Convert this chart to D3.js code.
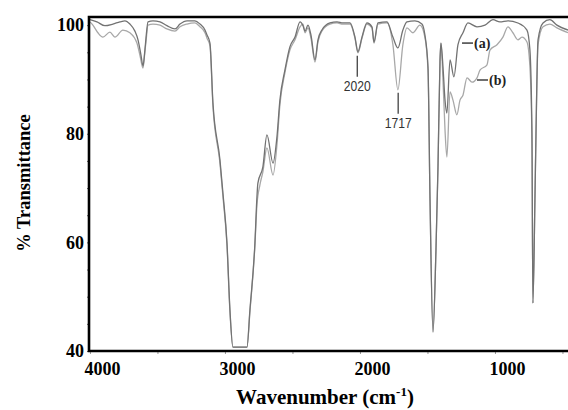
<!DOCTYPE html>
<html lang="en">
<head>
    <meta charset="UTF-8">
    <title>IR spectra</title>
    <style>
        body{
            margin:0;
            background:#fff;
        }
        svg{display:block;}
    </style>
    <script src="https://cdn.jsdelivr.net/npm/d3@7/dist/d3.min.js"></script>
</head>
<body>
<div id='container'>
</div>
</body>
<script>
    // spectrum (a): wavenumber (cm-1) and % transmittance
    var wnA = [4000,3948,3889,3830,3778,3741,3704,3667,3644,3622,3607,3593,3585,3570,3533,3481,3430,3370,3333,3281,
        3222,3185,3148,3133,3111,3089,3037,3015,2985,2963,2941,2837,2815,2778,2763,2756,2719,2689,2644,2615,
        2593,2556,2519,2481,2444,2422,2407,2385,2363,2333,2311,2282,2222,2170,2126,2074,2037,2015,1985,1948,
        1911,1896,1867,1800,1756,1719,1682,1652,1593,1541,1519,1496,1481,1459,1437,1422,1407,1400,1385,1370,
        1356,1333,1304,1274,1237,1200,1133,1074,1015,963,904,830,763,741,726,719,704,696,681,644,
        593,541,459];
    var tA = [101.0,100.6,99.9,100.2,100.6,100.8,100.2,98.9,97.3,94.5,92.5,95.4,97.6,100.6,100.8,100.6,99.9,99.3,100.2,100.8,
        100.8,100.2,99.1,98.2,96.7,85.7,75.2,69.1,59.9,47.6,40.7,40.7,47.6,59.9,68.4,70.9,73.9,79.8,74.6,79.4,
        86.2,91.7,96.0,97.8,100.6,99.9,98.9,100.0,98.2,93.6,97.3,99.1,100.4,100.6,100.4,100.4,97.8,95.1,97.8,100.4,
        99.7,96.9,100.4,100.6,97.8,95.8,99.1,100.6,100.8,100.2,98.2,92.3,67.8,43.5,58.6,73.9,93.6,96.7,92.3,86.2,
        83.8,93.6,90.5,96.4,98.6,100.4,99.7,100.0,101.0,100.6,100.8,100.4,99.1,95.4,80.2,48.8,67.8,80.2,97.3,100.4,
        101.0,100.0,99.1];

    // spectrum (b)
    var wnB = [4000,3978,3941,3904,3852,3815,3756,3704,3652,3630,3607,3593,3585,3570,3533,3481,3430,3370,3333,3281,
        3222,3185,3148,3133,3111,3089,3037,3015,2985,2963,2941,2837,2815,2778,2763,2741,2719,2689,2644,2615,
        2593,2556,2519,2481,2444,2422,2407,2385,2363,2333,2311,2282,2222,2170,2126,2074,2037,2015,1985,1948,
        1911,1896,1867,1800,1756,1719,1682,1652,1607,1556,1519,1496,1481,1459,1437,1422,1407,1400,1385,1370,
        1356,1333,1311,1282,1259,1237,1207,1170,1133,1111,1059,1037,985,941,904,867,830,800,763,741,
        726,719,704,696,681,644,593,541,459];
    var tB = [100.6,100.0,98.6,97.8,98.7,97.8,99.1,98.6,96.7,94.5,92.1,95.1,96.9,100.0,100.2,100.0,99.3,98.9,99.7,100.2,
        100.4,99.7,98.6,97.6,96.2,85.1,74.6,68.5,59.5,47.2,40.7,40.7,47.2,59.5,66.9,70.6,73.0,77.4,72.4,77.9,
        85.3,91.2,95.4,97.3,99.7,100.2,98.6,99.5,97.6,93.2,96.9,98.9,100.2,100.4,100.2,100.2,97.6,94.9,97.6,100.2,
        99.5,96.7,100.2,100.4,96.4,88.1,96.4,99.5,98.6,100.0,97.8,91.7,67.8,43.5,58.6,73.9,93.6,96.7,89.9,80.7,
        75.7,87.7,86.2,83.5,86.2,87.1,90.3,89.5,90.3,91.7,92.7,95.4,96.4,97.8,99.7,98.6,97.3,97.8,96.9,92.3,
        78.9,48.8,67.8,80.1,96.4,99.7,100.2,99.5,98.6];

    var xTicks = [4000, 3000, 2000, 1000],
        xMinor = [4000, 3500, 3000, 2500, 2000, 1500, 1000, 500],
        yTicks = [40, 60, 80, 100],
        yMinor = d3.range(40, 101, 5);

    var noteWn = [2020, 1717], noteText = ['2020', '1717'];
    var seriesNames = ['(a)', '(b)'];

    var w = 568, h = 410;
    var xScale = d3.scaleLinear().domain([4007, 459]).range([89, 568]),
        yScale = d3.scaleLinear().domain([40, 101.5]).range([351, 17]);

    var svg = d3.select('#container').append('svg').attr('width', w).attr('height', h);

    var line = d3.line()
        .x(function (d) {return xScale(d[0])})
        .y(function (d) {return yScale(d[1])})
        .curve(d3.curveMonotoneX);

    svg.append('path').datum(d3.zip(wnB, tB))
        .attr('fill', 'none').attr('stroke', '#a8a8a8').attr('stroke-width', 1.3)
        .attr('d', line);
    svg.append('path').datum(d3.zip(wnA, tA))
        .attr('fill', 'none').attr('stroke', '#727272').attr('stroke-width', 1.3)
        .attr('d', line);

    // peak markers: line hangs below the deeper of the two curves
    function nearest(wns, ts, v) {
        var i = d3.minIndex(wns, function (d) {return Math.abs(d - v)});
        return ts[i];
    }
    noteWn.forEach(function (v, i) {
        var t = Math.min(nearest(wnA, tA, v), nearest(wnB, tB, v));
        var top = yScale(t) + 3, px = xScale(v);
        svg.append('line').attr('x1', px).attr('x2', px).attr('y1', top).attr('y2', top + 21)
            .attr('stroke', '#333').attr('stroke-width', 1.2);
        svg.append('text').text(noteText[i])
            .attr('x', px).attr('y', top + 35)
            .attr('text-anchor', 'middle')
            .attr('textLength', 27).attr('lengthAdjust', 'spacingAndGlyphs')
            .style('font-family', '"Liberation Sans", Arial, sans-serif')
            .style('font-size', '14px').attr('fill', '#333');
    });

    // curve labels
    var labelAt = [[1244, 96.7], [1133, 89.9]];
    labelAt.forEach(function (p, i) {
        var px = xScale(p[0]), py = yScale(p[1]);
        svg.append('line').attr('x1', px).attr('x2', px + 11).attr('y1', py).attr('y2', py)
            .attr('stroke', '#222').attr('stroke-width', 1.3);
        svg.append('text').text(seriesNames[i])
            .attr('x', px + 12).attr('y', py + 5)
            .style('font-family', '"Liberation Serif", "Times New Roman", serif')
            .style('font-weight', 'bold').style('font-size', '14px').attr('fill', '#222');
    });

    // axes
    var gx = svg.append('g').attr('transform', 'translate(0,351)')
        .call(d3.axisBottom(xScale).tickValues(xTicks).tickSize(0).tickPadding(11).tickFormat(d3.format('d')));
    gx.select('.domain').remove();
    gx.selectAll('text').attr('dx', 12).attr('fill', '#000')
        .style('font-family', '"Liberation Serif", "Times New Roman", serif')
        .style('font-weight', 'bold').style('font-size', '18px');

    var gxm = svg.append('g').attr('transform', 'translate(0,351)')
        .call(d3.axisBottom(xScale).tickValues(xMinor).tickSize(3).tickFormat(''));
    gxm.select('.domain').remove();
    gxm.selectAll('line').attr('stroke', '#999');

    var gy = svg.append('g').attr('transform', 'translate(89,0)')
        .call(d3.axisLeft(yScale).tickValues(yTicks).tickSize(0).tickPadding(5).tickFormat(d3.format('d')));
    gy.select('.domain').remove();
    gy.selectAll('text').attr('fill', '#000')
        .style('font-family', '"Liberation Serif", "Times New Roman", serif')
        .style('font-weight', 'bold').style('font-size', '18px');

    var gym = svg.append('g').attr('transform', 'translate(89,0)')
        .call(d3.axisLeft(yScale).tickValues(yMinor).tickSize(2).tickFormat(''));
    gym.select('.domain').remove();
    gym.selectAll('line').attr('stroke', '#666');

    // frame: top, left and bottom
    var x0 = xScale.range()[0], x1 = xScale.range()[1],
        yb = yScale.range()[0], yt = yScale.range()[1];
    svg.append('path')
        .attr('d', 'M' + x1 + ',' + yt + 'H' + x0 + 'V' + yb + 'H' + x1)
        .attr('fill', 'none').attr('stroke', '#000').attr('stroke-width', 2.6);

    // axis titles
    var xt = svg.append('text')
        .attr('x', 325).attr('y', 404).attr('text-anchor', 'middle')
        .style('font-family', '"Liberation Serif", "Times New Roman", serif')
        .style('font-weight', 'bold').style('font-size', '21px');
    xt.append('tspan').text('Wavenumber (cm');
    xt.append('tspan').text('-1').attr('dy', -8).style('font-size', '13px');
    xt.append('tspan').text(')').attr('dy', 8);

    svg.append('text').text('% Transmittance')
        .attr('transform', 'translate(30,183) rotate(-90)')
        .attr('text-anchor', 'middle')
        .style('font-family', '"Liberation Serif", "Times New Roman", serif')
        .style('font-weight', 'bold').style('font-size', '18.5px');
</script>
</html>
